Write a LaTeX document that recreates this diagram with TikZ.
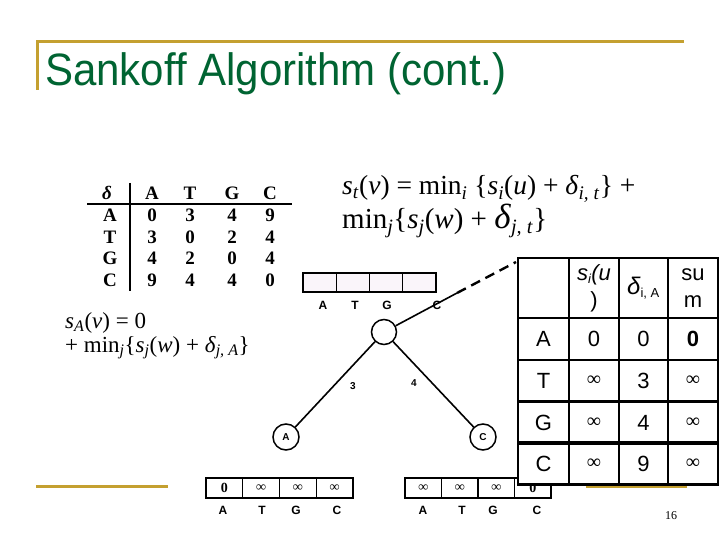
\documentclass[tikz,border=0pt]{standalone}
\usepackage{fontspec}
\setmainfont{Liberation Serif}
\newfontfamily\arial{Liberation Sans}
\definecolor{slidegold}{RGB}{196,160,48}
\definecolor{titlegreen}{RGB}{0,100,50}
\newcommand{\fsz}[1]{\fontsize{#1}{#1}\selectfont}
\newcommand{\infcell}{{\rmfamily\fsz{20}∞}}
\begin{document}
\begin{tikzpicture}[x=1pt,y=-1pt,
  goldline/.style={slidegold,line width=3pt},
  dtab/.style={font=\bfseries\fsz{19}, inner sep=0pt},
  arrcell/.style={draw, line width=1.4pt, minimum height=19pt, inner sep=0pt, font=\rmfamily\bfseries\fsz{14}},
  arrlab/.style={font=\arial\bfseries\fsz{12}, inner sep=0pt},
  treenode/.style={circle, draw, line width=1.5pt, minimum size=25pt, inner sep=0pt, font=\arial\bfseries\fsz{10}},
  tedge/.style={line width=1.6pt},
  tcell/.style={draw, line width=2.8pt, inner sep=0pt, font=\arial\fsz{22}, align=center},
  formula/.style={inner sep=0pt, anchor=base west}
]
\useasboundingbox (0,0) rectangle (720,540);
\fill[white] (0,0) rectangle (720,540);

% slide decorations
\draw[goldline] (36,42) coordinate (g1) -- (684,42) coordinate (g2);
\draw[goldline] (37.5,42) coordinate (g3) -- (37.5,90) coordinate (g4);
\draw[goldline] (36,486) coordinate (g5) -- (168,486) coordinate (g6);
\draw[goldline] (586,486) coordinate (g7) -- (687,486) coordinate (g8);

\node[anchor=base west, inner sep=0pt, text=titlegreen, font=\arial\fsz{42}, yscale=1.08] (title) at (45,86) {Sankoff Algorithm (cont.)};

% delta table
\node[dtab] (dh) at (107,193) {\itshape δ};
\node[dtab] (hA) at (152,193) {A};
\node[dtab] (hT) at (190,193) {T};
\node[dtab] (hG) at (232,193) {G};
\node[dtab] (hC) at (270,193) {C};
\foreach \r/\y/\a/\b/\c/\d in {A/215/0/3/4/9, T/237/3/0/2/4, G/258/4/2/0/4, C/280/9/4/4/0}{
  \node[dtab] (r\r) at (110,\y) {\r};
  \node[dtab] (r\r A) at (152,\y) {\a};
  \node[dtab] (r\r T) at (190,\y) {\b};
  \node[dtab] (r\r G) at (232,\y) {\c};
  \node[dtab] (r\r C) at (270,\y) {\d};
}
\draw[line width=1.5pt] (87,204) coordinate (hl1) -- (292,204) coordinate (hl2);
\draw[line width=1.8pt] (130,183) coordinate (vl1) -- (130,291) coordinate (vl2);

% formulas
\node[formula, font=\fsz{27.5}] (f1) at (342,195) {\textit{s}\textsubscript{\textit{t}}(\textit{v}) = min\textsubscript{\textit{i}} \{\textit{s}\textsubscript{\textit{i}}(\textit{u}) + \textit{δ}\textsubscript{\textit{i, t}}\} +};
\node[formula, font=\fsz{29}] (f2) at (342,229) {min\textsubscript{\textit{j}}\{\textit{s}\textsubscript{\textit{j}}(\textit{w}) + {\fsz{35}\textit{δ}}\textsubscript{\textit{j, t}}\}};

\node[formula, font=\fsz{23}] (f3) at (65,328) {\textit{s}\textsubscript{\textit{A}}(\textit{v}) = 0};
\node[formula, font=\fsz{23}] (f4) at (65,352) {+ min\textsubscript{\textit{j}}\{\textit{s}\textsubscript{\textit{j}}(\textit{w}) + \textit{δ}\textsubscript{\textit{j, A}}\}};

% tree
\foreach \i/\l/\x in {1/A/323,2/T/355,3/G/387,4/C/437}{
  \node[arrlab] (tl\i) at (\x,305) {\l};
}
\foreach \i in {1,...,4}{
  \node[arrcell, fill=violet!4, minimum width=33.25pt] (tc\i) at ({303+33.25*(\i-0.5)},282.5) {};
}
\node[treenode] (root) at (384,332) {};
\node[treenode, minimum size=26pt] (la) at (286,437) {A};
\node[treenode, minimum size=26pt] (lc) at (483,437) {C};
\draw[tedge] (root) -- (la);
\draw[tedge] (root) -- (lc);
\node[font=\arial\bfseries\fsz{10}, inner sep=0pt] (e3) at (353,386) {3};
\node[font=\arial\bfseries\fsz{10}, inner sep=0pt] (e4) at (414,383) {4};
\coordinate (d1) at (457,293);
\coordinate (d2) at (516,262);
\draw[tedge] (root) -- (d1);
\draw[line width=2.4pt, dash pattern=on 10pt off 6pt] (d1) -- (d2);

\foreach \i/\v in {1/0,2/∞,3/∞,4/∞}{
  \node[arrcell, minimum width=36.75pt, minimum height=20pt] (lb\i) at ({206+36.75*(\i-0.5)},488) {\v};
}
\foreach \i/\l/\x in {1/A/223,2/T/262,3/G/296,4/C/337}{
  \node[arrlab] (ll\i) at (\x,510) {\l};
}
\foreach \i/\v in {1/∞,2/∞,3/∞,4/0}{
  \node[arrcell, minimum width=36.5pt, minimum height=20pt] (rb\i) at ({405+36.5*(\i-0.5)},488) {\v};
}
\foreach \i/\l/\x in {1/A/423,2/T/462,3/G/493,4/C/537}{
  \node[arrlab] (rl\i) at (\x,510) {\l};
}

% right table
\fill[white] (518,258) rectangle (718,484);
\node[tcell, minimum width=51pt, minimum height=60pt] (c00) at (543.5,288) {};
\node[tcell, minimum width=50pt, minimum height=60pt] (c01) at (594,288) {\itshape s\textsubscript{\fsz{13}i}(u\\[5pt]\upshape)};
\node[tcell, minimum width=49pt, minimum height=60pt] (c02) at (643.5,288) {{\fsz{24}\itshape δ}\textsubscript{\fsz{13}i, A}};
\node[tcell, minimum width=50pt, minimum height=60pt] (c03) at (693,288) {su\\[5pt]m};
\foreach \r/\y/\a/\b/\c in {A/339/0/0/\bfseries 0, T/381/\infcell/3/\infcell, G/422.5/\infcell/4/\infcell, C/463.5/\infcell/9/\infcell}{
  \node[tcell, minimum width=51pt, minimum height=42pt] (t\r0) at (543.5,\y) {\r};
  \node[tcell, minimum width=50pt, minimum height=42pt] (t\r1) at (594,\y) {\a};
  \node[tcell, minimum width=49pt, minimum height=42pt] (t\r2) at (643.5,\y) {\b};
  \node[tcell, minimum width=50pt, minimum height=42pt] (t\r3) at (693,\y) {\c};
}
\draw[line width=2.8pt] (518,258) rectangle (718,484);

\node[font=\fsz{12}, inner sep=0pt] (pg) at (671,516) {16};
\end{tikzpicture}
\end{document}
